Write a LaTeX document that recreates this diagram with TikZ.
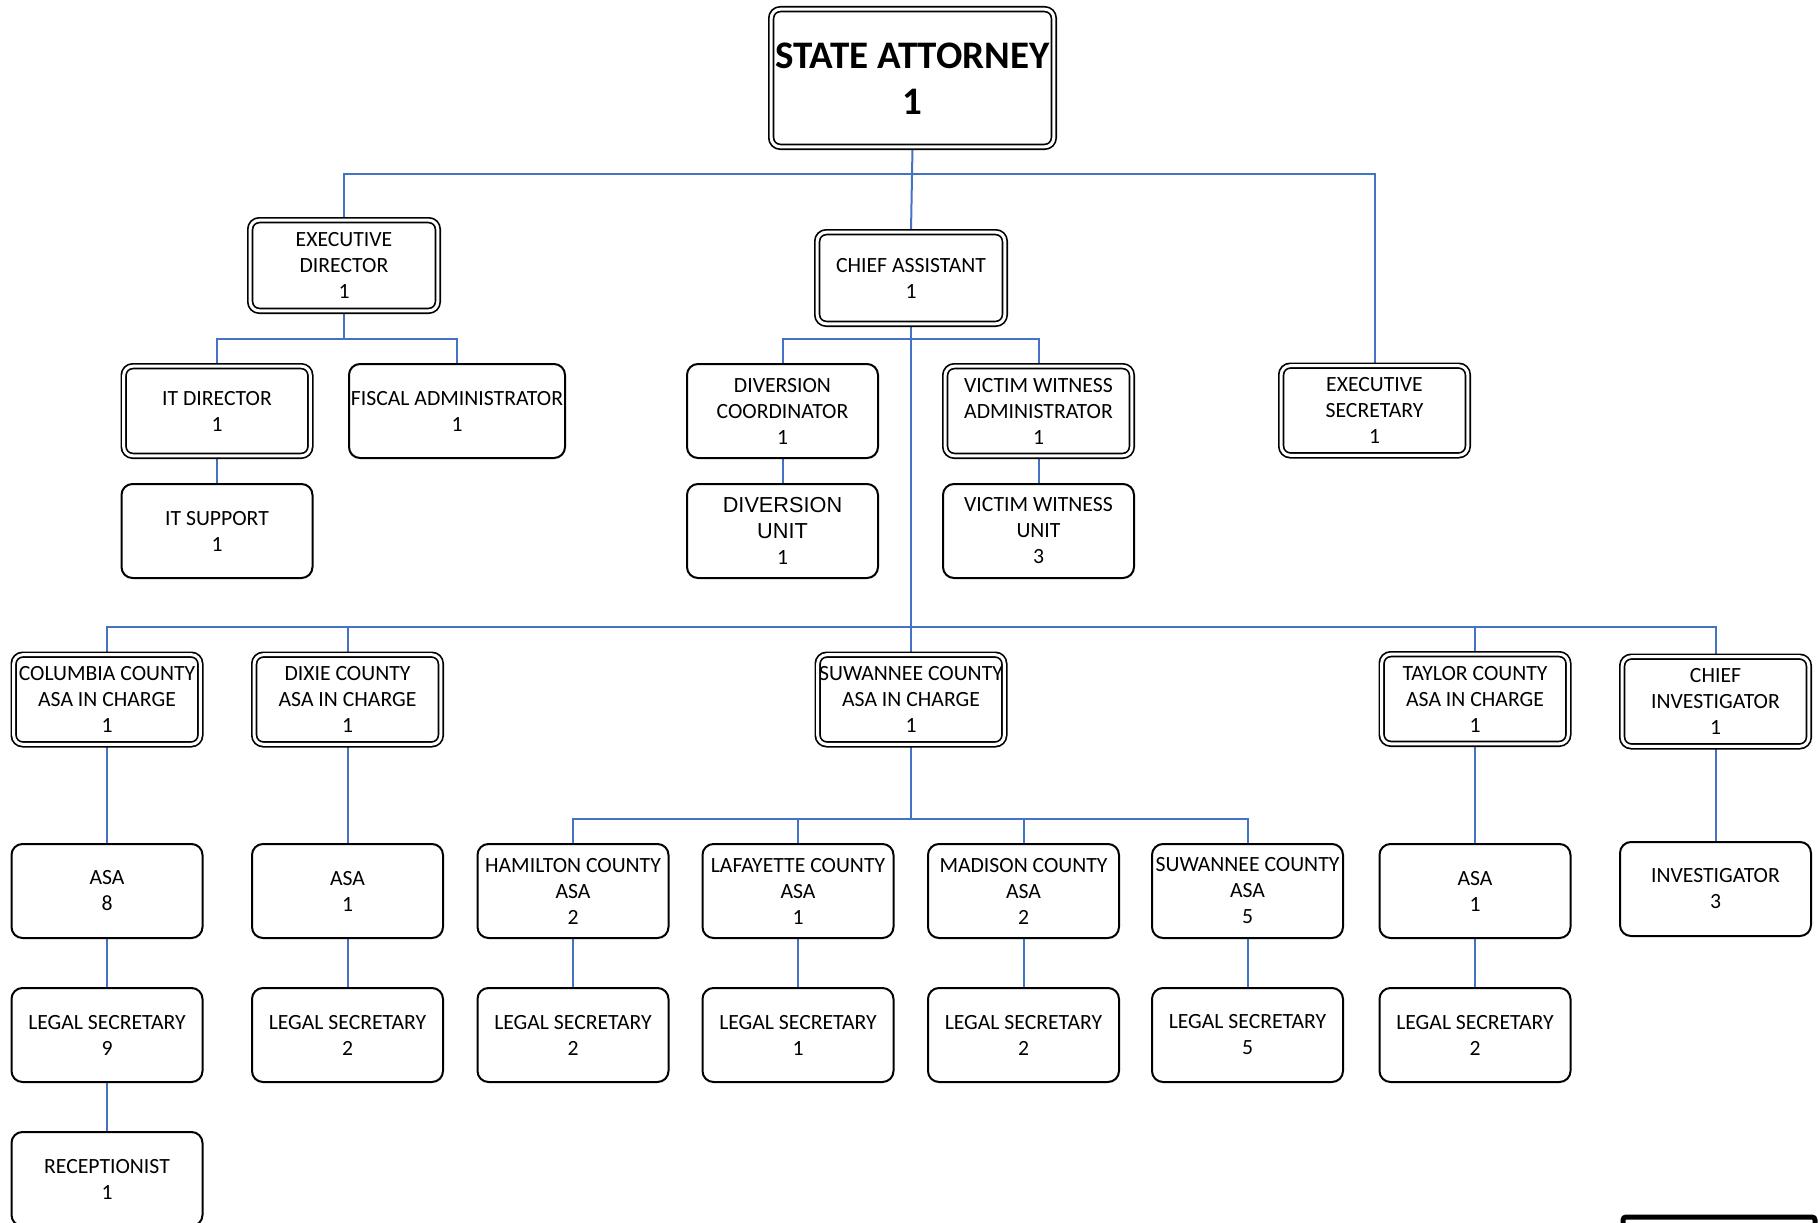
\documentclass[tikz,border=0pt]{standalone}
\usepackage{fontspec}
\setmainfont{Carlito}
\newfontfamily\arialfont{Liberation Sans}
\usetikzlibrary{backgrounds}
\definecolor{linkblue}{HTML}{4472C4}

\tikzset{
  every node/.style={font=\fontsize{21.7}{26}\selectfont, align=center, inner sep=0pt},
  single/.style={draw=black, line width=2pt, rounded corners=11pt, fill=white,
    minimum width=191pt, minimum height=94pt},
  dbl/.style={draw=black, line width=1.7pt, double=white, double distance=3pt,
    rounded corners=9pt, fill=white, minimum width=186.6pt, minimum height=89.6pt},
  conn/.style={draw=linkblue, line width=2pt}
}

\begin{document}
\begin{tikzpicture}[x=1pt, y=-1pt]
\useasboundingbox (0,0) rectangle (1818,1223);
\clip (0,0) rectangle (1818,1223);

% ---- top level ----
\node[dbl, minimum width=282.6pt, minimum height=137.6pt,
      font=\fontsize{39}{46}\selectfont\bfseries] (SA) at (912.5,78)
      {\rule{0pt}{27pt}STATE ATTORNEY\\1};

\node[dbl, minimum width=187.6pt, minimum height=90.6pt] (ED) at (344,265.5) {EXECUTIVE\\DIRECTOR\\1};
\node[dbl, minimum width=187.6pt, minimum height=91.6pt] (CA) at (911,278) {CHIEF ASSISTANT\\1};
\node[dbl] (ES) at (1374.5,410.5) {EXECUTIVE\\SECRETARY\\1};

% ---- administration ----
\node[dbl] (ITD) at (217,411) {IT DIRECTOR\\1};
\node[single, minimum width=216pt] (FIS) at (457,411) {FISCAL ADMINISTRATOR\\1};
\node[single] (ITS) at (217,531) {IT SUPPORT\\1};

% ---- diversion and victim witness ----
\node[single] (DC) at (782.5,411) {DIVERSION\\COORDINATOR\\1};
\node[single] (DU) at (782.5,531) {{\arialfont DIVERSION}\\{\arialfont UNIT}\\1};
\node[dbl] (VWA) at (1038.5,411) {VICTIM WITNESS\\ADMINISTRATOR\\1};
\node[single] (VWU) at (1038.5,531) {VICTIM WITNESS\\UNIT\\3};

% ---- county offices ----
\node[dbl] (COL) at (107,699.5) {COLUMBIA COUNTY\\ASA IN CHARGE\\1};
\node[dbl] (DIX) at (347.5,699.5) {DIXIE COUNTY\\ASA IN CHARGE\\1};
\node[dbl] (SUW) at (911,699.5) {SUWANNEE COUNTY\\ASA IN CHARGE\\1};
\node[dbl] (TAY) at (1475,699) {TAYLOR COUNTY\\ASA IN CHARGE\\1};
\node[dbl] (CI) at (1715.5,701.5) {CHIEF\\INVESTIGATOR\\1};

% ---- assistant state attorneys ----
\node[single] (COLA) at (107,891) {ASA\\8};
\node[single] (DIXA) at (347.5,891) {ASA\\1};
\node[single] (HAM) at (573,891) {HAMILTON COUNTY\\ASA\\2};
\node[single] (LAF) at (798,891) {LAFAYETTE COUNTY\\ASA\\1};
\node[single] (MAD) at (1023.5,891) {MADISON COUNTY\\ASA\\2};
\node[single] (SUWA) at (1247.5,891) {SUWANNEE COUNTY\\ASA\\5};
\node[single] (TAYA) at (1475,891) {ASA\\1};
\node[single] (INV) at (1715.5,889) {INVESTIGATOR\\3};

% ---- legal secretaries ----
\node[single] (COLS) at (107,1035) {LEGAL SECRETARY\\9};
\node[single] (DIXS) at (347.5,1035) {LEGAL SECRETARY\\2};
\node[single] (HAMS) at (573,1035) {LEGAL SECRETARY\\2};
\node[single] (LAFS) at (798,1035) {LEGAL SECRETARY\\1};
\node[single] (MADS) at (1023.5,1035) {LEGAL SECRETARY\\2};
\node[single] (SUWS) at (1247.5,1035) {LEGAL SECRETARY\\5};
\node[single] (TAYS) at (1475,1035) {LEGAL SECRETARY\\2};

\node[single] (REC) at (107,1179) {RECEPTIONIST\\1};

% partly visible box at the lower right edge
\node[draw=black, line width=5pt, rounded corners=3pt, minimum width=192pt,
      minimum height=60pt, anchor=north west] (tail) at (1620.5,1214.5) {};

% ---- connectors ----
\begin{scope}[on background layer]
  \coordinate (b1) at (0,174);
  \coordinate (b2) at (0,339);
  \coordinate (b3) at (0,627);
  \coordinate (b4) at (0,819);

  \draw[conn] (SA.south) -- (CA.north);
  \draw[conn] (ED.north) -- (ED.north |- b1) -- (ES.north |- b1) -- (ES.north);

  \draw[conn] (ED.south) -- (ED.south |- b2);
  \draw[conn] (ITD.north) -- (ITD.north |- b2) -- (FIS.north |- b2) -- (FIS.north);
  \draw[conn] (ITD.south) -- (ITS.north);

  \draw[conn] (DC.north) -- (DC.north |- b2) -- (VWA.north |- b2) -- (VWA.north);
  \draw[conn] (DC.south) -- (DU.north);
  \draw[conn] (VWA.south) -- (VWU.north);
  \draw[conn] (CA.south) -- (SUW.north);

  \draw[conn] (COL.north) -- (COL.north |- b3) -- (CI.north |- b3) -- (CI.north);
  \draw[conn] (DIX.north) -- (DIX.north |- b3);
  \draw[conn] (TAY.north) -- (TAY.north |- b3);

  \draw[conn] (SUW.south) -- (SUW.south |- b4);
  \draw[conn] (HAM.north) -- (HAM.north |- b4) -- (SUWA.north |- b4) -- (SUWA.north);
  \draw[conn] (LAF.north) -- (LAF.north |- b4);
  \draw[conn] (MAD.north) -- (MAD.north |- b4);

  \draw[conn] (COL.south) -- (COLA.north);
  \draw[conn] (COLA.south) -- (COLS.north);
  \draw[conn] (COLS.south) -- (REC.north);
  \draw[conn] (DIX.south) -- (DIXA.north);
  \draw[conn] (DIXA.south) -- (DIXS.north);
  \draw[conn] (HAM.south) -- (HAMS.north);
  \draw[conn] (LAF.south) -- (LAFS.north);
  \draw[conn] (MAD.south) -- (MADS.north);
  \draw[conn] (SUWA.south) -- (SUWS.north);
  \draw[conn] (TAY.south) -- (TAYA.north);
  \draw[conn] (TAYA.south) -- (TAYS.north);
  \draw[conn] (CI.south) -- (INV.north);
\end{scope}
\end{tikzpicture}
\end{document}
